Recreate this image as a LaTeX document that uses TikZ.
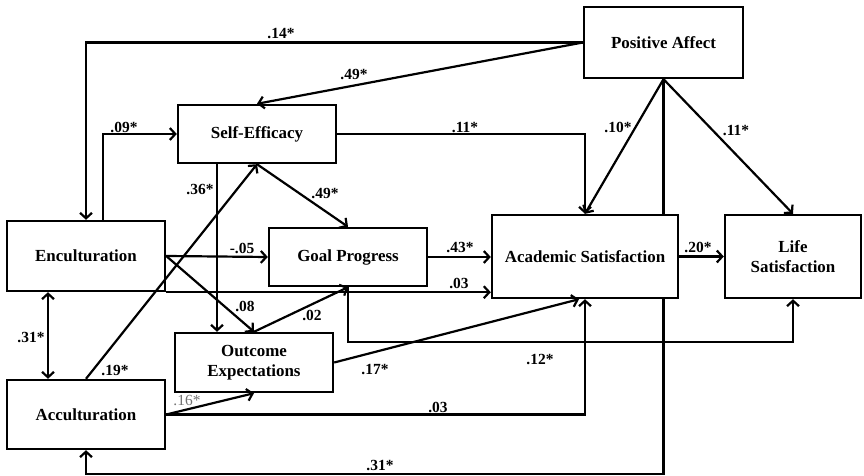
\documentclass[tikz,border=0pt]{standalone}
\usepackage{fontspec}
\setmainfont{Liberation Serif}
\usetikzlibrary{arrows.meta,positioning,calc}

\begin{document}
\begin{tikzpicture}[x=1bp, y=-1bp,
    >={Straight Barb[length=5.5bp,width=12bp,line width=2.2bp]},
    var/.style={draw=black, fill=white, line width=2.4bp, align=center, inner sep=2bp, font=\fontsize{17}{20}\selectfont\bfseries},
    link/.style={line width=2.2bp, line join=miter},
    coef/.style={font=\fontsize{15.5}{17}\selectfont\bfseries, inner sep=0pt}]
    \useasboundingbox (0,0) rectangle (864,476);

    % Variables (centres and sizes, in px)
    \node[var, minimum width=159bp, minimum height=71bp] (pa) at (663.5,42.5) {Positive Affect};
    \node[var, minimum width=158bp, minimum height=58bp] (se) at (257,134) {Self-Efficacy};
    \node[var, minimum width=158bp, minimum height=70bp] (enc) at (86,256) {Enculturation};
    \node[var, minimum width=158bp, minimum height=58bp] (gp) at (348,257) {Goal Progress};
    \node[var, minimum width=186bp, minimum height=83bp] (as) at (585,256.5) {Academic Satisfaction};
    \node[var, minimum width=136bp, minimum height=83bp] (ls) at (793,256.5) {Life\\Satisfaction};
    \node[var, minimum width=158bp, minimum height=59bp] (oe) at (254,362.5) {Outcome\\Expectations};
    \node[var, minimum width=158bp, minimum height=69bp] (acc) at (86,414.5) {Acculturation};
    \coordinate (low) at (0,474);

    % Paths from Positive Affect
    \draw[link, ->] (pa.west) -| (enc.north);
    \draw[link, ->] (pa.west) -- (se.north);
    \draw[link, ->] (pa.south) -- (as.north);
    \draw[link, ->] (pa.south) -- (ls.north);
    \draw[link] (pa.south) -- (pa.south |- as.north);
    \draw[link, ->] (pa.south |- as.south) -- (pa.south |- low) -| (acc.south);

    % Paths from Self-Efficacy
    \draw[link, ->] (se.east) -| (as.north);
    \draw[link, ->] (se.south) -- (gp.north);
    \draw[link, ->] ([xshift=-40bp]se.south) -- ([xshift=-40bp]se.south |- oe.north);

    % Paths from Enculturation
    \draw[link, ->] ([xshift=17bp]enc.north) |- (se.west);
    \draw[link, ->] (enc.east) -- (gp.west);
    \draw[link, ->] (enc.east) -- (oe.north);
    \draw[link, ->] (enc.south east) -- (enc.south east -| as.west);
    \draw[link, <->] ([xshift=-38bp]enc.south) -- ([xshift=-38bp]acc.north);

    % Paths from Acculturation
    \draw[link, ->] (acc.north) -- (se.south);
    \draw[link, ->] (acc.east) -- (oe.south);
    \draw[link, ->] (acc.east) -| (as.south);

    % Remaining paths
    \draw[link, ->] (oe.north) -- (gp.south);
    \draw[link, ->] (oe.east) -- ([xshift=-6bp]as.south);
    \draw[link, ->] (gp.east) -- (gp.east -| as.west);
    \draw[link, ->] (gp.south) -- ++(0,55) -| (ls.south);
    \draw[link, ->] (as.east) -- (as.east -| ls.west);

    % Coefficients
    \node[coef] (c1) at (281,34) {.14*};
    \node[coef] (c2) at (354,75) {.49*};
    \node[coef] (c3) at (124,127) {.09*};
    \node[coef] (c4) at (465,128) {.11*};
    \node[coef] (c5) at (618,127) {.10*};
    \node[coef] (c6) at (736,131) {.11*};
    \node[coef] (c7) at (200,189) {.36*};
    \node[coef] (c8) at (325,193) {.49*};
    \node[coef] (c9) at (242,248) {-.05};
    \node[coef] (c10) at (245,306) {.08};
    \node[coef] (c11) at (312,315) {.02};
    \node[coef] (c12) at (460,247) {.43*};
    \node[coef] (c13) at (459,283) {.03};
    \node[coef] (c14) at (698,247) {.20*};
    \node[coef] (c15) at (540,359) {.12*};
    \node[coef] (c16) at (375,370) {.17*};
    \node[coef] (c17) at (438,407) {.03};
    \node[coef] (c18) at (380,465) {.31*};
    \node[coef] (c19) at (31,337) {.31*};
    \node[coef] (c20) at (115,370) {.19*};
    \node[coef, font=\fontsize{15.5}{17}\selectfont, text=black!55] (c21) at (187,400) {.16*};
\end{tikzpicture}
\end{document}
